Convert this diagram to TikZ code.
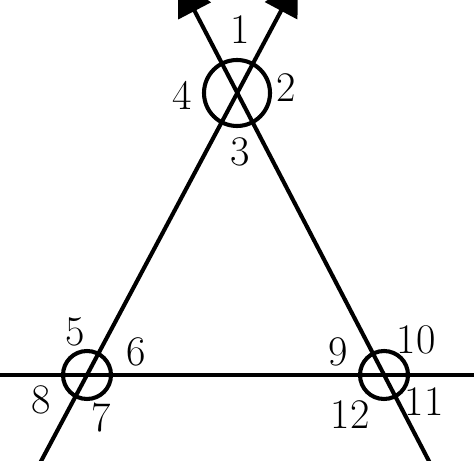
\documentclass[tikz,border=0pt]{standalone}
\usetikzlibrary{arrows.meta}
\begin{document}
\begin{tikzpicture}[x=0.25cm,y=0.25cm,line width=2.9pt,
  num/.style={font=\fontsize{30}{34}\selectfont},
  tip/.style={-{Triangle[length=9mm,width=9mm]}}]
\useasboundingbox (0,0) rectangle (47.4,46);
% intersections
\coordinate (T) at (23.7,36.7);
\coordinate (L) at (8.7,8.5);
\coordinate (R) at (38.4,8.5);
% line ends
\coordinate (BL) at (3.9,-0.5);
\coordinate (TR) at (29.8,48.1);
\coordinate (BR) at (43.1,-0.5);
\coordinate (TL) at (17.8,48.1);
\coordinate (W) at (-0.5,8.5);
\coordinate (E) at (47.9,8.5);
\draw[tip] (BL)--(TR);
\draw[tip] (BR)--(TL);
\draw (W)--(E);
\draw (T) circle[radius=3.3];
\draw (L) circle[radius=2.4];
\draw (R) circle[radius=2.4];
% angle numbers
\node[num] (n1) at (24.0,43.0) {1};
\node[num] (n2) at (28.6,37.2) {2};
\node[num] (n3) at (24.0,30.8) {3};
\node[num] (n4) at (18.2,36.5) {4};
\node[num] (n5) at (7.5,12.8) {5};
\node[num] (n6) at (13.6,10.8) {6};
\node[num] (n7) at (10.1,4.2) {7};
\node[num] (n8) at (4.1,6.0) {8};
\node[num] (n9) at (33.8,10.8) {9};
\node[num] (n10) at (41.6,12.0) {10};
\node[num] (n11) at (42.4,5.8) {11};
\node[num] (n12) at (35.0,4.5) {12};
\end{tikzpicture}
\end{document}
